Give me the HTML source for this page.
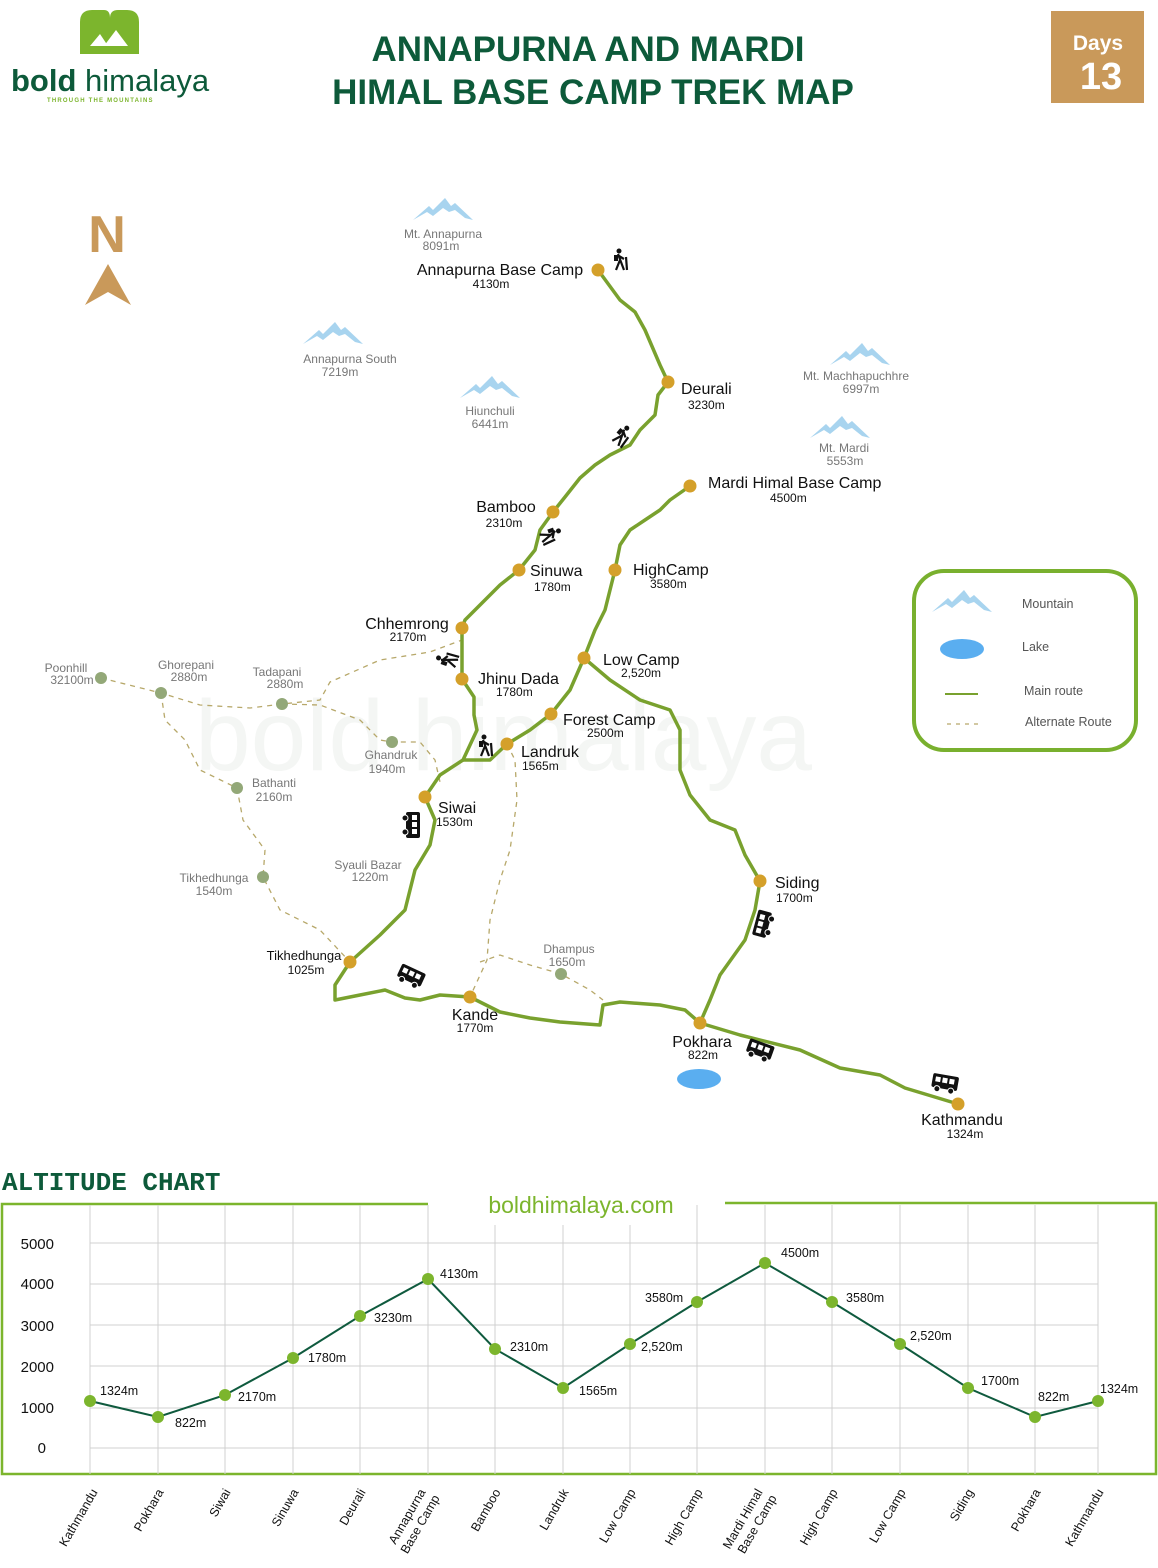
<!DOCTYPE html>
<html><head><meta charset="utf-8"><style>
html,body{margin:0;padding:0;background:#fff;}
svg{display:block;font-family:"Liberation Sans",sans-serif;}
</style></head><body>
<svg width="1158" height="1568" viewBox="0 0 1158 1568" xmlns="http://www.w3.org/2000/svg">
<defs>
<g id="mtn"><path d="M-30,10 L-14,-4 L-10,0 L2,-12 L8,-4 L12,-7 L30,10 L22,8 L12,0 L6,2 L0,-2 L-10,6 L-16,2 Z" fill="#a8d4ef"/></g>
<g id="bus"><rect x="-13" y="-8" width="26" height="14" rx="2" fill="#111"/><rect x="-10" y="-5" width="5" height="5" fill="#fff"/><rect x="-3" y="-5" width="5" height="5" fill="#fff"/><rect x="4" y="-5" width="5" height="5" fill="#fff"/><circle cx="-7" cy="7" r="3" fill="#111" stroke="#fff"/><circle cx="7" cy="7" r="3" fill="#111" stroke="#fff"/></g>
<g id="hiker"><circle cx="0" cy="-9" r="2.5" fill="#111"/><path d="M-1,-6 L2,2 L5,10 M1,0 L-3,10 M0,-4 L5,-1 M7,-3 L8,10" stroke="#111" stroke-width="2.2" fill="none"/><rect x="-5" y="-5" width="4" height="6" fill="#111"/></g>
</defs>

<!-- logo -->
<path d="M80,54 L80,22 Q80,10 92,10 L104,10 Q110,10 110,18 Q110,10 118,10 L127,10 Q139,10 139,22 L139,54 Z" fill="#7cb52d"/>
<path d="M90,46 L100,34 L108,46 Z M104,46 L116,30 L128,46 Z" fill="#fff"/>
<text x="11" y="91" font-size="31" fill="#0d5a3a"><tspan font-weight="bold">bold</tspan> himalaya</text>
<text x="47" y="102" font-size="6" font-weight="bold" fill="#7cb52d" letter-spacing="1.2">THROUGH THE MOUNTAINS</text>

<!-- title -->
<text x="588" y="61" font-size="35" font-weight="bold" fill="#0d5a3a" text-anchor="middle">ANNAPURNA AND MARDI</text>
<text x="593" y="104" font-size="35" font-weight="bold" fill="#0d5a3a" text-anchor="middle">HIMAL BASE CAMP TREK MAP</text>

<rect x="1051" y="11" width="93" height="92" fill="#c9995a"/>
<text x="1098" y="50" font-size="21" font-weight="bold" fill="#fff" text-anchor="middle">Days</text>
<text x="1101" y="89" font-size="38" font-weight="bold" fill="#fff" text-anchor="middle">13</text>

<!-- north -->
<text x="107" y="252" font-size="52" font-weight="bold" fill="#c9995a" text-anchor="middle">N</text>
<path d="M108,264 L131,305 L108,292 L85,305 Z" fill="#c9995a"/>

<!-- watermark -->
<text x="195" y="770" font-size="100" fill="#f4f6f4">bold himalaya</text>

<!-- mountains -->
<use href="#mtn" x="443" y="210"/>
<use href="#mtn" x="333" y="334"/>
<use href="#mtn" x="490" y="388"/>
<use href="#mtn" x="860" y="355"/>
<use href="#mtn" x="840" y="428"/>
<g font-size="12" fill="#777" text-anchor="middle">
<text x="443" y="238">Mt. Annapurna</text><text x="441" y="250">8091m</text>
<text x="350" y="363">Annapurna South</text><text x="340" y="376">7219m</text>
<text x="490" y="415">Hiunchuli</text><text x="490" y="428">6441m</text>
<text x="856" y="380">Mt. Machhapuchhre</text><text x="861" y="393">6997m</text>
<text x="844" y="452">Mt. Mardi</text><text x="845" y="465">5553m</text>
</g>

<!-- alternate routes -->
<g fill="none" stroke="#b7a86a" stroke-width="1.3" stroke-dasharray="5,5">
<path d="M101,678 L161,693 L200,705 L250,708 L282,704 L320,700 L330,682 L380,660 L430,652 L462,640"/>
<path d="M282,704 L320,705 L360,720 L380,740 L392,742 L420,742 L435,760 L440,782"/>
<path d="M161,693 L165,720 L185,740 L200,770 L237,788 L243,820 L265,850 L263,877 L280,910 L320,930 L350,962"/>
<path d="M507,744 L515,760 L517,800 L510,850 L500,880 L490,920 L487,960 L470,997"/>
<path d="M480,962 L500,955 L530,965 L561,974 L590,990 L603,1000"/>
</g>

<!-- main routes -->
<g fill="none" stroke="#79a12e" stroke-width="3.5" stroke-linejoin="round" stroke-linecap="round">
<path d="M598,270 L620,300 L635,312 L645,330 L660,365 L668,382 L658,395 L655,415 L640,430 L630,445 L610,455 L595,465 L580,478 L565,497 L553,512 L540,530 L535,550 L519,570 L500,585 L485,600 L465,620 L462,628 L462,679 L474,697 L474,715 L477,730 L470,745 L463,760 L440,775 L425,797 L435,820 L430,845 L415,870 L405,910 L380,935 L350,962 L335,985 L335,1000 L360,995 L385,990 L405,998 L420,1000 L440,995 L470,997 L500,1012 L530,1018 L560,1022 L600,1025 L603,1005 L620,1002 L660,1005 L685,1010 L700,1023 L740,1035 L800,1050 L840,1068 L880,1075 L905,1088 L958,1104"/>
<path d="M463,760 L490,760 L507,744 L530,730 L551,714 L570,690 L584,658 L595,630 L605,610 L610,590 L615,570 L620,545 L630,530 L645,520 L660,510 L670,500 L690,486"/>
<path d="M584,658 L610,680 L640,700 L670,710 L680,730 L680,770 L690,795 L710,820 L735,830 L745,855 L760,881 L755,910 L745,940 L720,975 L710,1000 L700,1023"/>
</g>

<!-- alt nodes -->
<g fill="#93a878">
<circle cx="101" cy="678" r="6"/><circle cx="161" cy="693" r="6"/><circle cx="282" cy="704" r="6"/><circle cx="392" cy="742" r="6"/><circle cx="237" cy="788" r="6"/><circle cx="263" cy="877" r="6"/><circle cx="561" cy="974" r="6"/>
</g>
<g font-size="12" fill="#777" text-anchor="middle">
<text x="66" y="672">Poonhill</text><text x="72" y="684">32100m</text>
<text x="186" y="669">Ghorepani</text><text x="189" y="681">2880m</text>
<text x="277" y="676">Tadapani</text><text x="285" y="688">2880m</text>
<text x="391" y="759">Ghandruk</text><text x="387" y="773">1940m</text>
<text x="274" y="787">Bathanti</text><text x="274" y="801">2160m</text>
<text x="214" y="882">Tikhedhunga</text><text x="214" y="895">1540m</text>
<text x="368" y="869">Syauli Bazar</text><text x="370" y="881">1220m</text>
<text x="569" y="953">Dhampus</text><text x="567" y="966">1650m</text>
</g>

<!-- main nodes -->
<g fill="#d4a02a">
<circle cx="598" cy="270" r="6.5"/><circle cx="668" cy="382" r="6.5"/><circle cx="553" cy="512" r="6.5"/><circle cx="519" cy="570" r="6.5"/><circle cx="462" cy="628" r="6.5"/><circle cx="462" cy="679" r="6.5"/><circle cx="507" cy="744" r="6.5"/><circle cx="551" cy="714" r="6.5"/><circle cx="584" cy="658" r="6.5"/><circle cx="615" cy="570" r="6.5"/><circle cx="690" cy="486" r="6.5"/><circle cx="425" cy="797" r="6.5"/><circle cx="350" cy="962" r="6.5"/><circle cx="470" cy="997" r="6.5"/><circle cx="700" cy="1023" r="6.5"/><circle cx="760" cy="881" r="6.5"/><circle cx="958" cy="1104" r="6.5"/>
</g>
<g fill="#111">
<text x="500" y="275" font-size="16" text-anchor="middle">Annapurna Base Camp</text><text x="491" y="288" font-size="12" text-anchor="middle">4130m</text>
<text x="681" y="394" font-size="16">Deurali</text><text x="688" y="409" font-size="12">3230m</text>
<text x="506" y="512" font-size="16" text-anchor="middle">Bamboo</text><text x="504" y="527" font-size="12" text-anchor="middle">2310m</text>
<text x="530" y="576" font-size="16">Sinuwa</text><text x="534" y="591" font-size="12">1780m</text>
<text x="407" y="629" font-size="16" text-anchor="middle">Chhemrong</text><text x="408" y="641" font-size="12" text-anchor="middle">2170m</text>
<text x="478" y="684" font-size="16">Jhinu Dada</text><text x="496" y="696" font-size="12">1780m</text>
<text x="521" y="757" font-size="16">Landruk</text><text x="522" y="770" font-size="12">1565m</text>
<text x="563" y="725" font-size="16">Forest Camp</text><text x="587" y="737" font-size="12">2500m</text>
<text x="603" y="665" font-size="16">Low Camp</text><text x="621" y="677" font-size="12">2,520m</text>
<text x="633" y="575" font-size="16">HighCamp</text><text x="650" y="588" font-size="12">3580m</text>
<text x="708" y="488" font-size="16">Mardi Himal Base Camp</text><text x="770" y="502" font-size="12">4500m</text>
<text x="438" y="813" font-size="16">Siwai</text><text x="436" y="826" font-size="12">1530m</text>
<text x="304" y="960" font-size="13" text-anchor="middle">Tikhedhunga</text><text x="306" y="974" font-size="12" text-anchor="middle">1025m</text>
<text x="475" y="1020" font-size="16" text-anchor="middle">Kande</text><text x="475" y="1032" font-size="12" text-anchor="middle">1770m</text>
<text x="702" y="1047" font-size="16" text-anchor="middle">Pokhara</text><text x="703" y="1059" font-size="12" text-anchor="middle">822m</text>
<text x="775" y="888" font-size="16">Siding</text><text x="776" y="902" font-size="12">1700m</text>
<text x="962" y="1125" font-size="16" text-anchor="middle">Kathmandu</text><text x="965" y="1138" font-size="12" text-anchor="middle">1324m</text>
</g>
<!-- icons -->
<use href="#hiker" x="619" y="260"/>
<use href="#hiker" x="484" y="746"/>
<use href="#hiker" x="621" y="435" transform="rotate(40 621 435)"/>
<use href="#hiker" x="550" y="534" transform="rotate(70 550 534)"/>
<use href="#hiker" x="447" y="661" transform="rotate(-70 447 661)"/>
<use href="#bus" x="412" y="825" transform="rotate(90 412 825)"/>
<use href="#bus" x="411" y="976" transform="rotate(25 411 976)"/>
<use href="#bus" x="763" y="924" transform="rotate(-75 763 924)"/>
<use href="#bus" x="760" y="1050" transform="rotate(20 760 1050)"/>
<use href="#bus" x="945" y="1083" transform="rotate(10 945 1083)"/>
<ellipse cx="699" cy="1079" rx="22" ry="10" fill="#5aaef0"/>

<!-- legend -->
<rect x="914" y="571" width="222" height="179" rx="30" fill="#fff" stroke="#79b02e" stroke-width="4"/>
<use href="#mtn" x="962" y="602"/>
<ellipse cx="962" cy="649" rx="22" ry="10" fill="#5aaef0"/>
<line x1="945" y1="694" x2="978" y2="694" stroke="#79a12e" stroke-width="2"/>
<line x1="947" y1="724" x2="978" y2="724" stroke="#b7a86a" stroke-width="1.2" stroke-dasharray="4,5"/>
<g font-size="12.5" fill="#555"><text x="1022" y="608">Mountain</text><text x="1022" y="651">Lake</text><text x="1024" y="695">Main route</text><text x="1025" y="726">Alternate Route</text></g>

<!-- altitude chart -->
<text x="2" y="1190" font-size="26" font-weight="bold" fill="#0d5a3a" font-family="Liberation Mono,monospace">ALTITUDE CHART</text>
<text x="581" y="1213" font-size="23" fill="#7cb52d" text-anchor="middle">boldhimalaya.com</text>
<path d="M428,1204 L2,1204 L2,1474 L1156,1474 L1156,1203 L725,1203" fill="none" stroke="#7cb52d" stroke-width="2.5"/>
<g stroke="#d0d0d0" stroke-width="1">
<line x1="90" y1="1243" x2="1098" y2="1243"/><line x1="90" y1="1284" x2="1098" y2="1284"/><line x1="90" y1="1325" x2="1098" y2="1325"/><line x1="90" y1="1366" x2="1098" y2="1366"/><line x1="90" y1="1408" x2="1098" y2="1408"/><line x1="90" y1="1448" x2="1098" y2="1448"/>
<path d="M90,1205V1474M158,1205V1474M225,1205V1474M293,1205V1474M360,1205V1474M428,1205V1474M495,1225V1474M563,1225V1474M630,1225V1474M697,1205V1474M765,1205V1474M832,1205V1474M900,1205V1474M968,1205V1474M1035,1205V1474M1098,1205V1474"/>
</g>
<g font-size="15" fill="#111" text-anchor="end">
<text x="54" y="1249">5000</text><text x="54" y="1289">4000</text><text x="54" y="1331">3000</text><text x="54" y="1372">2000</text><text x="54" y="1413">1000</text><text x="46" y="1453">0</text>
</g>
<polyline points="90,1401 158,1417 225,1395 293,1358 360,1316 428,1279 495,1349 563,1388 630,1344 697,1302 765,1263 832,1302 900,1344 968,1388 1035,1417 1098,1401" fill="none" stroke="#0f5a3e" stroke-width="2"/>
<g fill="#7cb52d">
<circle cx="90" cy="1401" r="6"/><circle cx="158" cy="1417" r="6"/><circle cx="225" cy="1395" r="6"/><circle cx="293" cy="1358" r="6"/><circle cx="360" cy="1316" r="6"/><circle cx="428" cy="1279" r="6"/><circle cx="495" cy="1349" r="6"/><circle cx="563" cy="1388" r="6"/><circle cx="630" cy="1344" r="6"/><circle cx="697" cy="1302" r="6"/><circle cx="765" cy="1263" r="6"/><circle cx="832" cy="1302" r="6"/><circle cx="900" cy="1344" r="6"/><circle cx="968" cy="1388" r="6"/><circle cx="1035" cy="1417" r="6"/><circle cx="1098" cy="1401" r="6"/>
</g>
<g font-size="12.5" fill="#111">
<text x="100" y="1395">1324m</text><text x="175" y="1427">822m</text><text x="238" y="1401">2170m</text><text x="308" y="1362">1780m</text><text x="374" y="1322">3230m</text><text x="440" y="1278">4130m</text><text x="510" y="1351">2310m</text><text x="579" y="1395">1565m</text><text x="641" y="1351">2,520m</text><text x="645" y="1302">3580m</text><text x="781" y="1257">4500m</text><text x="846" y="1302">3580m</text><text x="910" y="1340">2,520m</text><text x="981" y="1385">1700m</text><text x="1038" y="1401">822m</text><text x="1100" y="1393">1324m</text>
</g>
<g font-size="12.5" fill="#111" text-anchor="end">
<text transform="translate(98,1492) rotate(-60)">Kathmandu</text>
<text transform="translate(164,1492) rotate(-60)">Pokhara</text>
<text transform="translate(231,1492) rotate(-60)">Siwai</text>
<text transform="translate(299,1492) rotate(-60)">Sinuwa</text>
<text transform="translate(366,1492) rotate(-60)">Deurali</text>
<text transform="translate(426,1492) rotate(-60)">Annapurna</text>
<text transform="translate(440,1498) rotate(-60)">Base Camp</text>
<text transform="translate(501,1492) rotate(-60)">Bamboo</text>
<text transform="translate(569,1492) rotate(-60)">Landruk</text>
<text transform="translate(636,1492) rotate(-60)">Low Camp</text>
<text transform="translate(703,1492) rotate(-60)">High Camp</text>
<text transform="translate(763,1492) rotate(-60)">Mardi Himal</text>
<text transform="translate(777,1498) rotate(-60)">Base Camp</text>
<text transform="translate(838,1492) rotate(-60)">High Camp</text>
<text transform="translate(906,1492) rotate(-60)">Low Camp</text>
<text transform="translate(974,1492) rotate(-60)">Siding</text>
<text transform="translate(1041,1492) rotate(-60)">Pokhara</text>
<text transform="translate(1104,1492) rotate(-60)">Kathmandu</text>
</g>
</svg>
</body></html>
